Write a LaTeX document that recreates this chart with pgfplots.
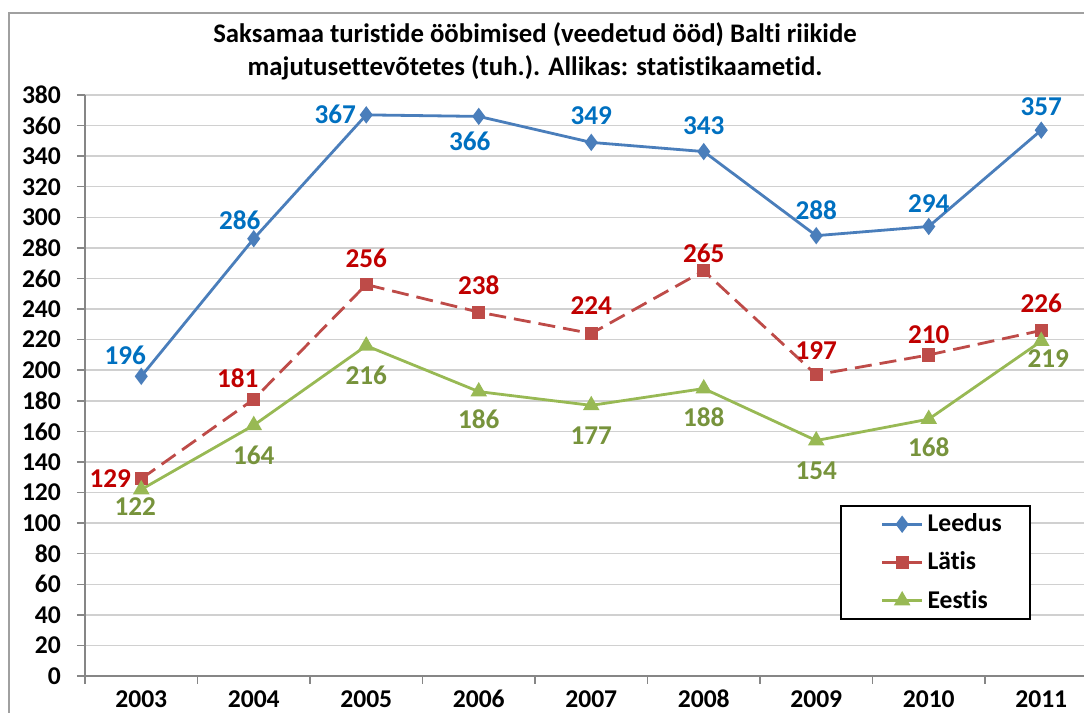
\documentclass[border=0pt]{standalone}
\usepackage{pgfplots}
\pgfplotsset{compat=1.18}
\usepackage{pgfplotstable}
\usepackage{fontspec}
\setmainfont{Carlito}[Ligatures=CommonOff, Numbers=Lining]
\definecolor{lblue}{HTML}{4A7EBB}
\definecolor{lbluet}{HTML}{0070C0}
\definecolor{lred}{HTML}{BE4B48}
\definecolor{lredt}{HTML}{C00000}
\definecolor{lgreen}{HTML}{98B954}
\definecolor{lgreent}{HTML}{77933C}
\definecolor{axgray}{HTML}{868686}
\definecolor{gridgray}{HTML}{D0D0D0}
\definecolor{framegray}{HTML}{A0A0A0}

\pgfplotstableread{
x y dx dy
0 196 -8 10.5
1 286 -7 9.5
2 367 -15.5 0.5
3 366 -4.5 -12.5
4 349 0 13.5
5 343 0 13
6 288 0 12.5
7 294 0 11.5
8 357 0 11.5
}\leedus

\pgfplotstableread{
x y dx dy
0 129 -15.5 0
1 181 -8 10.5
2 256 0 13
3 238 0 13.5
4 224 0 13.75
5 265 0 9
6 197 0 12
7 210 0 10
8 226 0 13.5
}\latis

\pgfplotstableread{
x y dx dy
0 122 -3 -8.75
1 164 0 -15
2 216 0 -15
3 186 0 -14
4 177 0 -15
5 188 0 -14.5
6 154 0 -15
7 168 0 -14
8 219 3.5 -8.5
}\eestis

\newcommand{\lblfont}{\fontsize{12.8}{15}\selectfont\bfseries}
\newcommand{\datfont}{\fontsize{13.6}{15}\selectfont\bfseries}

\begin{document}
\begin{tikzpicture}
\begin{axis}[
  at={(0,0)}, anchor=south west,
  scale only axis, width=506.25pt, height=290.5pt,
  xmin=-0.5, xmax=8.5, ymin=0, ymax=380,
  axis x line*=bottom, axis y line*=left,
  axis line style={-, axgray, line width=0.75pt},
  xtick={0,...,8},
  xticklabels={2003,2004,2005,2006,2007,2008,2009,2010,2011},
  major x tick style={draw=none},
  minor xtick={-0.5,0.5,...,8.5},
  ytick={0,20,...,380},
  ymajorgrids, grid style={gridgray, line width=0.75pt},
  tick align=outside,
  major tick length=4pt, minor tick length=4pt,
  tick style={axgray, line width=0.75pt},
  ticklabel style={font=\lblfont},
  xticklabel style={text height=8.2pt, text depth=0pt},
  yticklabel style={xshift=-4.5pt},
  /pgf/number format/assume math mode=true,
  clip=false,
  legend cell align=left,
  legend image code/.code={%
    \path (0pt,0pt);
    \draw[mark repeat=2,mark phase=2,#1] plot coordinates {(8pt,0pt) (18pt,0pt) (28pt,0pt)};},
  legend style={at={(0.7457,0.2943)}, anchor=north west, draw=black, line width=0.75pt,
     font=\lblfont, inner xsep=12pt, inner ysep=2pt,
     row sep=4.6pt},
  nodes near coords,
  point meta=explicit,
  visualization depends on={\thisrow{dx}\as\dx},
  visualization depends on={\thisrow{dy}\as\dy},
]
\addplot[color=lblue, line width=1.4pt, mark=diamond*, mark size=3.2pt,
  mark options={solid},
  every node near coord/.append style={anchor=center, xshift=\dx pt, yshift=\dy pt, font=\datfont, text=lbluet}]
  table[x=x, y=y, meta=y] {\leedus};
\addlegendentry{Leedus}
\addplot[color=lred, line width=1.4pt, dash pattern=on 8.5pt off 4pt, mark=square*, mark size=2.6pt,
  mark options={solid},
  every node near coord/.append style={anchor=center, xshift=\dx pt, yshift=\dy pt, font=\datfont, text=lredt}]
  table[x=x, y=y, meta=y] {\latis};
\addlegendentry{Lätis}
\addplot[color=lgreen, line width=1.4pt, mark=triangle*, mark size=3.4pt,
  mark options={solid},
  every node near coord/.append style={anchor=center, xshift=\dx pt, yshift=\dy pt, font=\datfont, text=lgreent}]
  table[x=x, y=y, meta=y] {\eestis};
\addlegendentry{Eestis}
\end{axis}
\node[align=center, font=\fontsize{13.4}{16.4}\selectfont\bfseries] at (225pt,312.5pt)
  {Saksamaa turistide ööbimised (veedetud ööd) Balti riikide\\majutusettevõtetes (tuh.). Allikas: statistikaametid.};
\draw[framegray, line width=0.75pt] (-38pt,-30pt) -- (-38pt,331.5pt) -- (520pt,331.5pt);
\pgfresetboundingbox
\path[use as bounding box] (-42.5pt,-18.5pt) rectangle (499.5pt,338pt);
\end{tikzpicture}
\end{document}
